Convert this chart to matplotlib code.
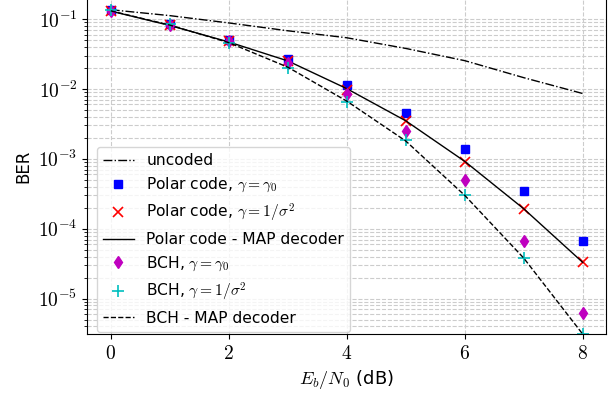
import matplotlib
matplotlib.use("Agg")
import matplotlib.pyplot as plt
from matplotlib.ticker import FuncFormatter, LogLocator, NullFormatter
import numpy as np

plt.rcParams["mathtext.fontset"] = "cm"
plt.rcParams["font.family"] = "DejaVu Sans"

ebn0 = [0, 1, 2, 3, 4, 5, 6, 7, 8]

uncoded = [0.136, 0.112, 0.088, 0.068, 0.054, 0.038, 0.0254, 0.0145, 0.0086]
polar_gamma0 = [0.135, 0.085, 0.051, 0.0268, 0.0114, 0.00454, 0.00139, 0.000349, 6.7e-5]
polar_sigma = [0.132, 0.082, 0.048, 0.0248, 0.0098, 0.00352, 0.000906, 0.000193, 3.33e-5]
polar_map = [0.130, 0.081, 0.047, 0.0252, 0.0101, 0.0035, 0.00092, 0.000193, 3.3e-5]
bch_gamma0 = [0.132, 0.082, 0.048, 0.0237, 0.0085, 0.00254, 0.00049, 6.7e-5, 6.3e-6]
bch_sigma = [0.134, 0.084, 0.046, 0.0200, 0.0066, 0.00189, 0.000299, 3.86e-5, 3.1e-6]
bch_map = [0.131, 0.082, 0.046, 0.0205, 0.0067, 0.0018, 0.0003, 3.8e-5, 3.1e-6]

fig = plt.figure(figsize=(6.1, 3.95), dpi=100)
ax = fig.add_axes([0.143, 0.154, 0.851, 0.851])

ax.semilogy(ebn0, uncoded, "k-.", lw=1, label="uncoded")
ax.semilogy(ebn0, polar_gamma0, "bs", ms=5.5, label=r"Polar code, $\gamma=\gamma_0$")
ax.semilogy(ebn0, polar_sigma, "rx", ms=6.5, mew=1.2, label=r"Polar code, $\gamma=1/\sigma^2$")
ax.semilogy(ebn0, polar_map, "k-", lw=1, label="Polar code - MAP decoder")
ax.semilogy(ebn0, bch_gamma0, "md", ms=6, label=r"BCH, $\gamma=\gamma_0$")
ax.semilogy(ebn0, bch_sigma, "c+", ms=8, mew=1.2, label=r"BCH, $\gamma=1/\sigma^2$")
ax.semilogy(ebn0, bch_map, "k--", lw=1, label="BCH - MAP decoder")

ax.set_xlim(-0.4, 8.4)
ax.set_ylim(3.1e-6, 0.2)
ax.set_xticks([0, 2, 4, 6, 8])
ax.xaxis.set_major_formatter(FuncFormatter(lambda v, p: r"$%d$" % round(v)))
ax.yaxis.set_major_locator(LogLocator(base=10, numticks=10))
ax.yaxis.set_major_formatter(FuncFormatter(lambda v, p: r"$10^{%d}$" % round(np.log10(v))))
ax.yaxis.set_minor_locator(LogLocator(base=10, subs=np.arange(2, 10), numticks=10))
ax.yaxis.set_minor_formatter(NullFormatter())
ax.tick_params(labelsize=14)

ax.grid(True, which="both", ls="--", color="#cccccc", lw=0.8)
ax.set_xlabel(r"$E_b/N_0$ (dB)", fontsize=13)
ax.set_ylabel("BER", fontsize=12)
ax.legend(loc="lower left", fontsize=11.2, bbox_to_anchor=(0.018, 0.006), borderaxespad=0)

fig.savefig("out.png")
